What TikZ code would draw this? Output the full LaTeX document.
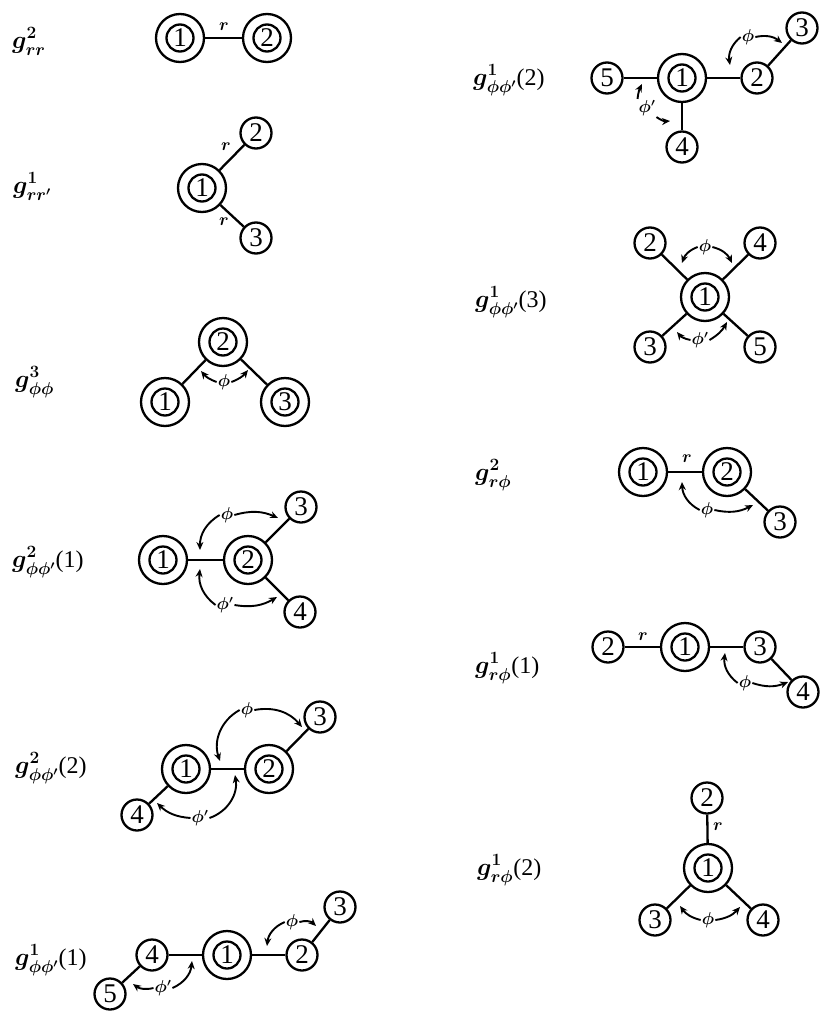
\documentclass[tikz,border=0pt]{standalone}
\usepackage{fontspec}
\setmainfont{Liberation Serif}
\usetikzlibrary{arrows.meta}
\newcommand\dfont{\fontsize{27}{27}\selectfont}
\newcommand\lfont{\fontsize{24}{28}\selectfont}
\newcommand\sfont{\fontsize{16}{16}\selectfont\boldmath}
\newcommand\glab[2]{{\boldmath$g#1$}#2}
\begin{document}
\begin{tikzpicture}[x=1pt,y=-1pt,
  dbl/.style={circle, draw, line width=2.3pt, minimum size=48pt, inner sep=0pt, font=\dfont,
    path picture={\draw[line width=2.3pt] (path picture bounding box.center) circle (13.5pt);}},
  sgl/.style={circle, draw, line width=2.3pt, minimum size=31pt, inner sep=0pt, font=\dfont},
  lbl/.style={anchor=base west, inner sep=0pt, font=\lfont},
  el/.style={inner sep=1pt, font=\sfont},
  ln/.style={line width=2.3pt},
  arr/.style={line width=1.9pt, -{Stealth[length=8pt,width=7pt]}},
]
\useasboundingbox (0,0) rectangle (820,1012);

% labels
\node[lbl] (L1) at (12,48) {\glab{^2_{rr}}{}};
\node[lbl] (L2) at (13,193) {\glab{^1_{rr'}}{}};
\node[lbl] (L3) at (15,387) {\glab{^3_{\phi\phi}}{}};
\node[lbl] (L4) at (12,567) {\glab{^2_{\phi\phi'}}{(1)}};
\node[lbl] (L5) at (15,773) {\glab{^2_{\phi\phi'}}{(2)}};
\node[lbl] (L6) at (15,965) {\glab{^1_{\phi\phi'}}{(1)}};
\node[lbl] (R1) at (473,85) {\glab{^1_{\phi\phi'}}{(2)}};
\node[lbl] (R2) at (475,307) {\glab{^1_{\phi\phi'}}{(3)}};
\node[lbl] (R3) at (475,480) {\glab{^2_{r\phi}}{}};
\node[lbl] (R4) at (475,673) {\glab{^1_{r\phi}}{(1)}};
\node[lbl] (R5) at (477,875) {\glab{^1_{r\phi}}{(2)}};

% D1
\node[dbl] (a1) at (180,38) {1};
\node[dbl] (a2) at (267,38) {2};
\draw[ln] (a1) -- (a2);
\node[el] (ar) at (224,27) {$r$};

% D2
\node[dbl] (b1) at (202,188) {1};
\node[sgl] (b2) at (256,133) {2};
\node[sgl] (b3) at (256,238) {3};
\draw[ln] (b1) -- (b2);
\draw[ln] (b1) -- (b3);
\node[el] (br1) at (226,147) {$r$};
\node[el] (br2) at (224,222) {$r$};

% D3
\node[dbl] (c2) at (223,342) {2};
\node[dbl] (c1) at (165,402) {1};
\node[dbl] (c3) at (285,402) {3};
\draw[ln] (c2) -- (c1);
\draw[ln] (c2) -- (c3);
\node[el] (cp) at (224,382) {$\phi$};
\coordinate (ct1) at (201,371);
\coordinate (ct2) at (248,370);
\draw[arr] (cp.west) to[bend left=15] (ct1);
\draw[arr] (cp.east) to[bend right=15] (ct2);

% D4
\node[dbl] (d1) at (163,560) {1};
\node[dbl] (d2) at (248,560) {2};
\node[sgl] (d3) at (301,507) {3};
\node[sgl] (d4) at (300,612) {4};
\draw[ln] (d1) -- (d2);
\draw[ln] (d2) -- (d3);
\draw[ln] (d2) -- (d4);
\node[el] (dp) at (227,515) {$\phi$};
\node[el] (dq) at (225,605) {$\phi'$};
\coordinate (dt1) at (200,550);
\coordinate (dt2) at (278,518);
\coordinate (dt3) at (200,569);
\coordinate (dt4) at (277,597);
\draw[arr] (dp.west) to[bend right=30] (dt1);
\draw[arr] (dp.east) to[bend left=20] (dt2);
\draw[arr] (dq.west) to[bend left=30] (dt3);
\draw[arr] (dq.east) to[bend right=20] (dt4);

% D5
\node[dbl] (e1) at (186,769) {1};
\node[dbl] (e2) at (269,769) {2};
\node[sgl] (e3) at (320,717) {3};
\node[sgl] (e4) at (137,815) {4};
\draw[ln] (e1) -- (e2);
\draw[ln] (e2) -- (e3);
\draw[ln] (e1) -- (e4);
\node[el] (ep) at (247,710) {$\phi$};
\node[el] (eq) at (200,818) {$\phi'$};
\coordinate (et1) at (220,761);
\coordinate (et2) at (302,727);
\coordinate (et3) at (235,775);
\coordinate (et4) at (157,803);
\draw[arr] (ep.west) to[bend right=40] (et1);
\draw[arr] (ep.east) to[bend left=30] (et2);
\draw[arr] (eq.east) to[bend right=40] (et3);
\draw[arr] (eq.west) to[bend left=20] (et4);

% D6
\node[sgl] (f4) at (152,955) {4};
\node[dbl] (f1) at (227,955) {1};
\node[sgl] (f2) at (302,955) {2};
\node[sgl] (f3) at (340,907) {3};
\node[sgl] (f5) at (110,994) {5};
\draw[ln] (f4) -- (f1);
\draw[ln] (f1) -- (f2);
\draw[ln] (f2) -- (f3);
\draw[ln] (f4) -- (f5);
\node[el] (fp) at (292,922) {$\phi$};
\node[el] (fq) at (163,988) {$\phi'$};
\coordinate (ft1) at (267,946);
\coordinate (ft2) at (316,926);
\coordinate (ft3) at (133,984);
\coordinate (ft4) at (192,961);
\draw[arr] (fp.west) to[bend right=30] (ft1);
\draw[arr] (fp.east) to[bend left=30] (ft2);
\draw[arr] (fq.west) to[bend left=25] (ft3);
\draw[arr] (fq.east) to[bend right=30] (ft4);

% D7
\node[sgl] (g5) at (607,78) {5};
\node[dbl] (g1) at (682,78) {1};
\node[sgl] (g2) at (757,78) {2};
\node[sgl] (g3) at (802,28) {3};
\node[sgl] (g4) at (682,147) {4};
\draw[ln] (g5) -- (g1);
\draw[ln] (g1) -- (g2);
\draw[ln] (g2) -- (g3);
\draw[ln] (g1) -- (g4);
\node[el] (gp) at (748,37) {$\phi$};
\node[el] (gq) at (647,108) {$\phi'$};
\coordinate (gt1) at (730,65);
\coordinate (gt2) at (782,43);
\coordinate (gt3) at (642,84);
\coordinate (gt4) at (670,121);
\draw[arr] (gp.west) to[bend right=30] (gt1);
\draw[arr] (gp.east) to[bend left=25] (gt2);
\draw[arr] (gq.north west) to[bend left=10] (gt3);
\draw[arr] (gq.south east) to[bend right=20] (gt4);

% D8
\node[dbl] (h1) at (705,297) {1};
\node[sgl] (h2) at (650,243) {2};
\node[sgl] (h4) at (760,243) {4};
\node[sgl] (h3) at (650,347) {3};
\node[sgl] (h5) at (760,347) {5};
\draw[ln] (h1) -- (h2);
\draw[ln] (h1) -- (h4);
\draw[ln] (h1) -- (h3);
\draw[ln] (h1) -- (h5);
\node[el] (hp) at (705,247) {$\phi$};
\node[el] (hq) at (700,340) {$\phi'$};
\coordinate (ht1) at (682,263);
\coordinate (ht2) at (732,263);
\coordinate (ht3) at (677,332);
\coordinate (ht4) at (727,322);
\draw[arr] (hp.west) to[bend right=25] (ht1);
\draw[arr] (hp.east) to[bend left=25] (ht2);
\draw[arr] (hq.west) to[bend left=20] (ht3);
\draw[arr] (hq.east) to[bend right=15] (ht4);

% D9
\node[dbl] (i1) at (643,472) {1};
\node[dbl] (i2) at (727,472) {2};
\node[sgl] (i3) at (780,522) {3};
\draw[ln] (i1) -- (i2);
\draw[ln] (i2) -- (i3);
\node[el] (ir) at (687,459) {$r$};
\node[el] (ip) at (707,510) {$\phi$};
\coordinate (it1) at (682,482);
\coordinate (it2) at (753,505);
\draw[arr] (ip.west) to[bend left=30] (it1);
\draw[arr] (ip.east) to[bend right=20] (it2);

% D10
\node[sgl] (j2) at (608,647) {2};
\node[dbl] (j1) at (685,647) {1};
\node[sgl] (j3) at (760,647) {3};
\node[sgl] (j4) at (803,692) {4};
\draw[ln] (j2) -- (j1);
\draw[ln] (j1) -- (j3);
\draw[ln] (j3) -- (j4);
\node[el] (jr) at (643,637) {$r$};
\node[el] (jp) at (745,683) {$\phi$};
\coordinate (jt1) at (725,653);
\coordinate (jt2) at (788,682);
\draw[arr] (jp.west) to[bend left=30] (jt1);
\draw[arr] (jp.east) to[bend right=20] (jt2);

% D11
\node[sgl] (k2) at (707,798) {2};
\node[dbl] (k1) at (708,868) {1};
\node[sgl] (k3) at (655,920) {3};
\node[sgl] (k4) at (763,920) {4};
\draw[ln] (k1) -- (k2);
\draw[ln] (k1) -- (k3);
\draw[ln] (k1) -- (k4);
\node[el] (kr) at (718,827) {$r$};
\node[el] (kp) at (708,920) {$\phi$};
\coordinate (kt1) at (680,906);
\coordinate (kt2) at (740,907);
\draw[arr] (kp.west) to[bend left=20] (kt1);
\draw[arr] (kp.east) to[bend right=20] (kt2);
\end{tikzpicture}
\end{document}
